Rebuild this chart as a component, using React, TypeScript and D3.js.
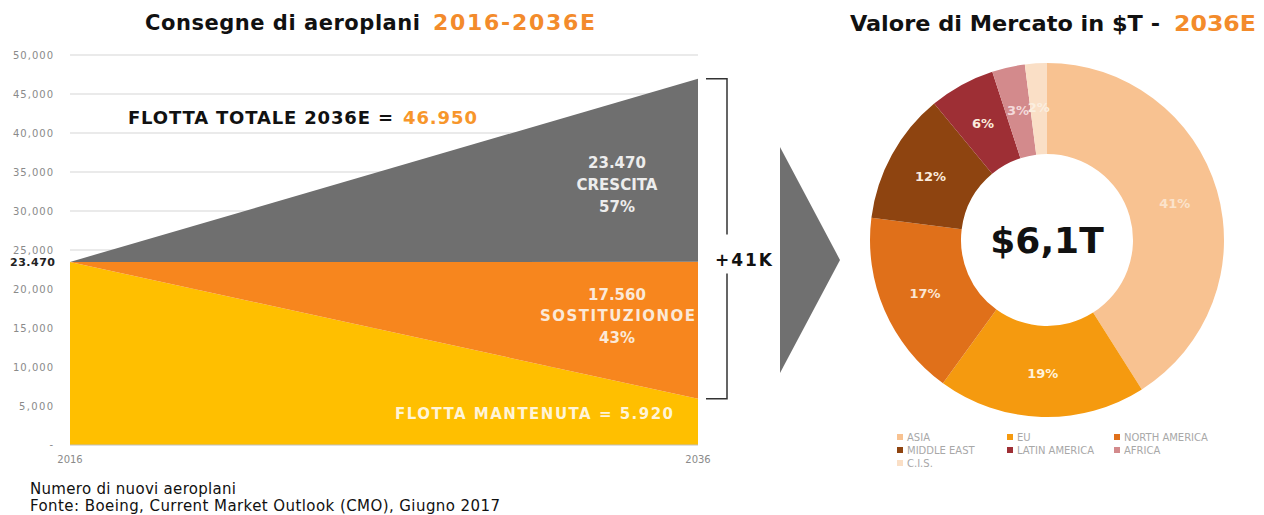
import React from "react";
import * as d3 from "d3";

// deliveries 2016 -> 2036E (stacked: fleet kept, replacement, growth)
const years = [2016, 2036];
const flottaMantenuta = [23470, 5920];
const sostituzione = [0, 17560];
const crescita = [0, 23470];
const yTicks = [0, 5000, 10000, 15000, 20000, 25000, 30000, 35000, 40000, 45000, 50000];

// market value 2036E by region
const regions = ["ASIA", "EU", "NORTH AMERICA", "MIDDLE EAST", "LATIN AMERICA", "AFRICA", "C.I.S."];
const shares = [41, 19, 17, 12, 6, 3, 2];
const regionColors = ["#F8C291", "#F59A0F", "#E0701A", "#8E4410", "#9E2F35", "#D38A8C", "#FADFC6"];
const labelColors = ["#FBE3CB", "#FFF3DC", "#FBE6D3", "#FBEBDD", "#FBEBDD", "#F4DADB", "#FBEEDF"];

const FONT = "'DejaVu Sans', Verdana, sans-serif";

const App = () => {
  const W = 1264;
  const H = 515;
  const m = { left: 70, right: 698, top: 55, bottom: 445 };

  const x = d3.scaleLinear().domain([2016, 2036]).range([m.left, m.right]);
  const y = d3.scaleLinear().domain([0, 50000]).range([m.bottom, m.top]);

  const rows = years.map((yr, i) => ({
    year: yr,
    mantenuta: flottaMantenuta[i],
    sostituzione: sostituzione[i],
    crescita: crescita[i],
  }));
  const keys = ["mantenuta", "sostituzione", "crescita"];
  const fills: Record<string, string> = {
    mantenuta: "#FFBF00",
    sostituzione: "#F7861E",
    crescita: "#6F6F6F",
  };
  const series = d3.stack<any>().keys(keys)(rows);
  const area = d3
    .area<any>()
    .x((d) => x(d.data.year))
    .y0((d) => y(d[0]))
    .y1((d) => y(d[1]));

  const fmt = d3.format(",");
  const total2036 = d3.sum([flottaMantenuta[1], sostituzione[1], crescita[1]]);
  const base2016 = flottaMantenuta[0];

  // donut
  const cx = 1047;
  const cy = 240;
  const outerR = 177;
  const innerR = 86;
  const pie = d3.pie<number>().sort(null).value((d) => d)(shares);
  const arc = d3.arc<any>().innerRadius(innerR).outerRadius(outerR);
  const labelArc = d3.arc<any>().innerRadius(133).outerRadius(133);

  const legendCols = [900, 1010, 1117];
  const legendRows = [437, 450, 463];

  const bx = 727;
  const bTop = y(total2036);
  const bBot = y(flottaMantenuta[1]);

  return (
    <svg
      width={W}
      height={H}
      style={{ position: "absolute", left: 0, top: 0, background: "#fff" }}
      fontFamily={FONT}
    >
      {/* titles */}
      <text x={145} y={30} fontSize={21} fontWeight="bold" fill="#111" textLength={275} lengthAdjust="spacing">
        Consegne di aeroplani
      </text>
      <text x={433} y={30} fontSize={22} fontWeight="bold" fill="#F38B2B" textLength={162} lengthAdjust="spacing">
        2016-2036E
      </text>
      <text
        x={850}
        y={31}
        fontSize={22}
        fontWeight="bold"
        fill="#111"
        fontFamily="'DejaVu Sans Condensed', 'DejaVu Sans', sans-serif"
        textLength={310}
        lengthAdjust="spacingAndGlyphs"
      >
        Valore di Mercato in $T -
      </text>
      <text
        x={1174}
        y={31}
        fontSize={22}
        fontWeight="bold"
        fill="#F38B2B"
        fontFamily="'DejaVu Sans Condensed', 'DejaVu Sans', sans-serif"
        textLength={82}
        lengthAdjust="spacingAndGlyphs"
      >
        2036E
      </text>

      {/* grid + y ticks */}
      {yTicks.map((t) => (
        <g key={t}>
          {t > 0 && (
            <line x1={m.left} x2={m.right} y1={y(t)} y2={y(t)} stroke="#E3E3E3" strokeWidth={1.5} />
          )}
          {t === 0 ? (
            <text x={53} y={y(t) + 3} fontSize={10} fill="#8A8A8A" textAnchor="end">
              -
            </text>
          ) : (
            <text
              x={53 - (t >= 10000 ? 40 : 34)}
              y={y(t) + 3.5}
              fontSize={10}
              fill="#8A8A8A"
              textLength={t >= 10000 ? 40 : 34}
              lengthAdjust="spacing"
            >
              {fmt(t)}
            </text>
          )}
        </g>
      ))}

      {/* stacked areas */}
      {series.map((s) => (
        <path key={s.key} d={area(s) || ""} fill={fills[s.key]} />
      ))}

      {/* x axis */}
      <line x1={m.left} x2={m.right} y1={m.bottom} y2={m.bottom} stroke="#BFBFBF" />
      {years.map((yr) => (
        <text key={yr} x={x(yr)} y={463} fontSize={10} fill="#8A8A8A" textAnchor="middle">
          {yr}
        </text>
      ))}

      {/* starting value */}
      <text x={10} y={y(base2016) + 4} fontSize={11} fontWeight="bold" fill="#222" textLength={45} lengthAdjust="spacing">
        23.470
      </text>

      {/* annotations */}
      <text x={128} y={124} fontSize={18} fontWeight="bold" fill="#111" textLength={265} lengthAdjust="spacing">
        FLOTTA TOTALE 2036E =
      </text>
      <text x={403} y={124} fontSize={18} fontWeight="bold" fill="#F7962B" textLength={74} lengthAdjust="spacing">
        46.950
      </text>
      <g fontSize={15} fontWeight="bold" fill="#EDEDED" textAnchor="middle">
        <text x={617} y={168}>23.470</text>
        <text x={617} y={190}>CRESCITA</text>
        <text x={617} y={212}>57%</text>
      </g>
      <g fontSize={15} fontWeight="bold" fill="#FBE9D8">
        <text x={617} y={300} textAnchor="middle">17.560</text>
        <text x={540} y={321} textLength={155} lengthAdjust="spacing">SOSTITUZIONOE</text>
        <text x={617} y={343} textAnchor="middle">43%</text>
      </g>
      <text x={395} y={419} fontSize={15} fontWeight="bold" fill="#FFF4D8" textLength={278} lengthAdjust="spacing">
        FLOTTA MANTENUTA = 5.920
      </text>

      {/* bracket */}
      <path
        d={`M${bx - 21},${bTop} H${bx} V${y(27000)} M${bx},${y(22000)} V${bBot} H${bx - 21}`}
        fill="none"
        stroke="#333"
        strokeWidth={1.5}
      />
      <text x={715} y={266} fontSize={17} fontWeight="bold" fill="#111" textLength={57} lengthAdjust="spacing">
        +41K
      </text>

      {/* arrow */}
      <path d="M780,147 L840,260 L780,373 Z" fill="#707070" />

      {/* donut */}
      <g transform={`translate(${cx},${cy})`}>
        {pie.map((p, i) => (
          <path key={regions[i]} d={arc(p) || ""} fill={regionColors[i]} />
        ))}
        {pie.map((p, i) => {
          const [lx, ly] = labelArc.centroid(p);
          return (
            <text
              key={regions[i]}
              x={lx}
              y={ly + 5}
              fontSize={13}
              fontWeight="bold"
              fill={labelColors[i]}
              textAnchor="middle"
            >
              {shares[i]}%
            </text>
          );
        })}
        <text y={13} fontSize={36} fontWeight="bold" fill="#111" textAnchor="middle">
          $6,1T
        </text>
      </g>

      {/* legend */}
      {regions.map((r, i) => {
        const lx = legendCols[i % 3];
        const ly = legendRows[Math.floor(i / 3)];
        return (
          <g key={r}>
            <rect x={lx - 3} y={ly - 3} width={6} height={6} fill={regionColors[i]} />
            <text x={lx + 7} y={ly + 4} fontSize={10} fill="#A8A8A8">
              {r}
            </text>
          </g>
        );
      })}

      {/* footnote */}
      <text x={30} y={494} fontSize={15} fill="#111" textLength={206} lengthAdjust="spacing">
        Numero di nuovi aeroplani
      </text>
      <text x={30} y={511} fontSize={15} fill="#111" textLength={470} lengthAdjust="spacing">
        Fonte: Boeing, Current Market Outlook (CMO), Giugno 2017
      </text>
    </svg>
  );
};

export default App;
